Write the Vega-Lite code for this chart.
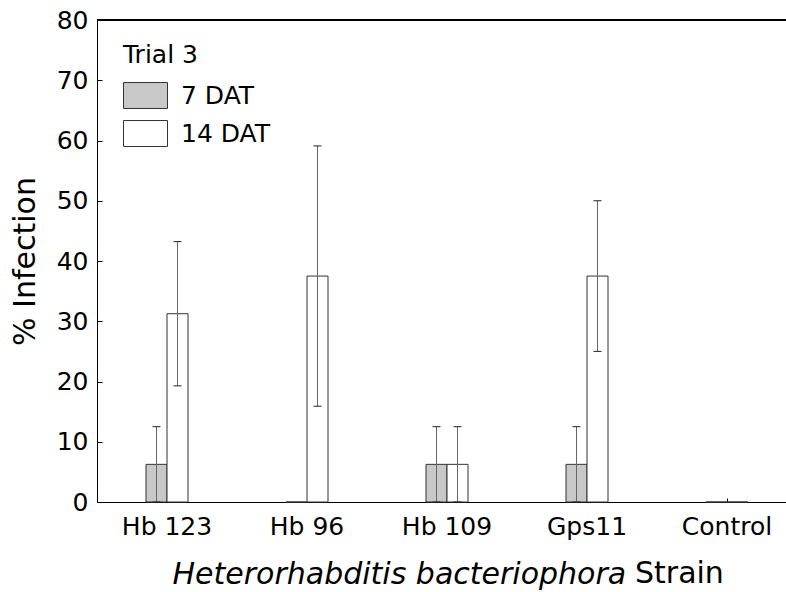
{
  "$schema": "https://vega.github.io/schema/vega-lite/v6.json",
  "width": 689,
  "height": 482,
  "autosize": {"type": "none"},
  "padding": {"left": 97, "top": 20, "right": 0, "bottom": 90},
  "background": "white",
  "title": {"text": "Strain", "orient": "bottom", "anchor": "start", "frame": "group", "dx": 538, "offset": -6, "fontSize": 30, "fontWeight": "normal", "font": "DejaVu Sans", "color": "#000", "baseline": "alphabetic"},
  "config": {
    "view": {"stroke": null},
    "font": "DejaVu Sans",
    "axis": {"domainColor": "#000", "tickColor": "#000", "labelColor": "#000", "titleColor": "#000", "grid": false, "labelFontSize": 25, "titleFontSize": 30, "titleFontWeight": "normal", "labelFont": "DejaVu Sans", "titleFont": "DejaVu Sans"},
    "legend": {"labelFont": "DejaVu Sans", "titleFont": "DejaVu Sans"}
  },
  "data": {"values": [
    {"strain": "Hb 123", "dat": "7 DAT", "value": 6.25, "lower": 0, "upper": 12.5},
    {"strain": "Hb 123", "dat": "14 DAT", "value": 31.25, "lower": 19.28, "upper": 43.22},
    {"strain": "Hb 96", "dat": "7 DAT", "value": 0, "lower": null, "upper": null},
    {"strain": "Hb 96", "dat": "14 DAT", "value": 37.5, "lower": 15.9, "upper": 59.1},
    {"strain": "Hb 109", "dat": "7 DAT", "value": 6.25, "lower": 0, "upper": 12.5},
    {"strain": "Hb 109", "dat": "14 DAT", "value": 6.25, "lower": 0, "upper": 12.5},
    {"strain": "Gps11", "dat": "7 DAT", "value": 6.25, "lower": 0, "upper": 12.5},
    {"strain": "Gps11", "dat": "14 DAT", "value": 37.5, "lower": 25, "upper": 50},
    {"strain": "Control", "dat": "7 DAT", "value": 0, "lower": null, "upper": null},
    {"strain": "Control", "dat": "14 DAT", "value": 0, "lower": null, "upper": null}
  ]},
  "layer": [
    {
      "mark": {"type": "bar", "stroke": "#333", "strokeWidth": 1},
      "encoding": {
        "x": {"field": "strain", "type": "nominal", "sort": ["Hb 123", "Hb 96", "Hb 109", "Gps11", "Control"],
              "scale": {"range": [0, 700], "paddingInner": 0, "paddingOuter": 0},
              "axis": {"labelAngle": 0, "tickSize": -4, "labelPadding": 16, "title": "Heterorhabditis bacteriophora", "titleFontStyle": "italic", "titleAlign": "left", "titleAnchor": null, "titleX": 75, "titleY": 81, "titleBaseline": "alphabetic"}},
        "xOffset": {"field": "dat", "type": "nominal", "sort": ["7 DAT", "14 DAT"], "scale": {"range": [49, 91], "paddingInner": 0, "paddingOuter": 0}},
        "y": {"field": "value", "type": "quantitative", "scale": {"domain": [0, 80], "nice": false},
              "axis": {"title": "% Infection", "values": [0, 10, 20, 30, 40, 50, 60, 70, 80], "tickSize": -5, "labelPadding": 14, "titlePadding": 16}},
        "fill": {"field": "dat", "type": "nominal", "sort": ["7 DAT", "14 DAT"],
                 "scale": {"domain": ["7 DAT", "14 DAT"], "range": ["#c8c8c8", "#ffffff"]},
                 "legend": {"title": "Trial 3", "orient": "none", "legendX": 26, "legendY": 23, "titleFontSize": 25, "titleFontWeight": "normal", "titleColor": "#000", "labelFontSize": 25, "labelColor": "#000", "symbolType": "M-1,-0.59H1V0.59H-1Z", "symbolSize": 1936, "symbolStrokeColor": "#333", "symbolStrokeWidth": 1, "symbolOpacity": 1, "labelOffset": 13, "rowPadding": -13, "titlePadding": 5}}
      }
    },
    {
      "transform": [{"filter": "datum.upper != null"}],
      "mark": {"type": "rule", "color": "#666", "strokeWidth": 1},
      "encoding": {
        "x": {"field": "strain", "type": "nominal", "sort": ["Hb 123", "Hb 96", "Hb 109", "Gps11", "Control"]},
        "xOffset": {"field": "dat", "type": "nominal", "sort": ["7 DAT", "14 DAT"]},
        "y": {"field": "lower", "type": "quantitative", "title": "% Infection"},
        "y2": {"field": "upper"}
      }
    },
    {
      "transform": [{"filter": "datum.upper != null"}],
      "mark": {"type": "tick", "color": "#222", "size": 8, "thickness": 1, "opacity": 1},
      "encoding": {
        "x": {"field": "strain", "type": "nominal", "sort": ["Hb 123", "Hb 96", "Hb 109", "Gps11", "Control"]},
        "xOffset": {"field": "dat", "type": "nominal", "sort": ["7 DAT", "14 DAT"]},
        "y": {"field": "upper", "type": "quantitative", "title": "% Infection"}
      }
    },
    {
      "transform": [{"filter": "datum.upper != null"}],
      "mark": {"type": "tick", "color": "#222", "size": 8, "thickness": 1, "opacity": 1},
      "encoding": {
        "x": {"field": "strain", "type": "nominal", "sort": ["Hb 123", "Hb 96", "Hb 109", "Gps11", "Control"]},
        "xOffset": {"field": "dat", "type": "nominal", "sort": ["7 DAT", "14 DAT"]},
        "y": {"field": "lower", "type": "quantitative", "title": "% Infection"}
      }
    },
    {
      "mark": {"type": "rule", "color": "#000", "strokeWidth": 1},
      "encoding": {"y": {"datum": 80, "type": "quantitative", "title": "% Infection"}}
    }
  ]
}
